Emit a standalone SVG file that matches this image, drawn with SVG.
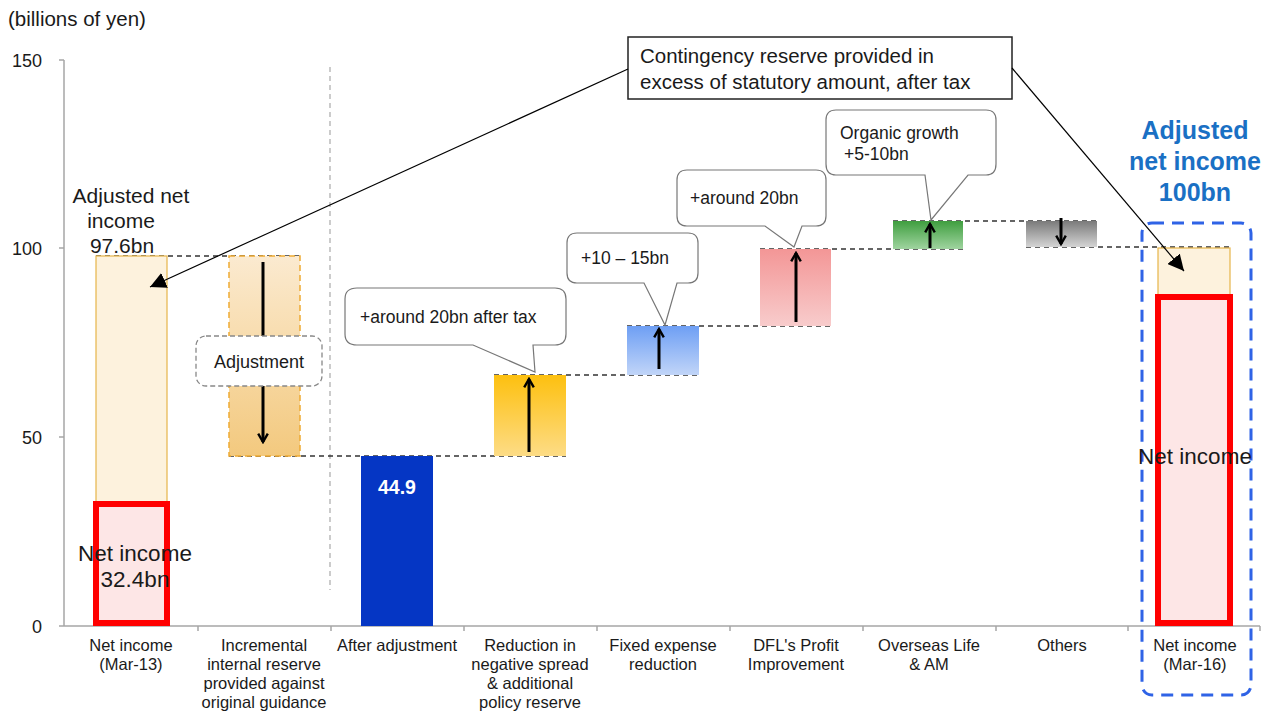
<svg xmlns="http://www.w3.org/2000/svg" width="1273" height="713" viewBox="0 0 1273 713">
  <style>
    text { font-family: "Liberation Sans", Arial, sans-serif; fill: #1a1a1a; }
    .axis { stroke: #a6a6a6; stroke-width: 1.5; fill: none; }
    .ytick { font-size: 18px; text-anchor: end; }
    .xlab { font-size: 16.5px; text-anchor: middle; }
    .level { stroke: #333; stroke-width: 1.3; stroke-dasharray: 5 4; fill: none; }
    .arrow { stroke: #000; stroke-width: 3; fill: none; }
    .callout { fill: #fff; stroke: #777; stroke-width: 1.2; }
    .ctext { font-size: 17.5px; }
    .conn { stroke: #000; stroke-width: 1.2; fill: none; }
    .netbar { fill: #fde6e6; stroke: #ff0000; stroke-width: 6; }
    .adjpart { fill: #fdf2dd; stroke: #e7b54a; stroke-width: 1.2; }
  </style>
  <defs>
    <linearGradient id="gAdj" x1="0" y1="0" x2="0" y2="1">
      <stop offset="0" stop-color="#fbead0"/><stop offset="1" stop-color="#f3c97e"/>
    </linearGradient>
    <linearGradient id="gYel" x1="0" y1="0" x2="0" y2="1">
      <stop offset="0" stop-color="#fdc00f"/><stop offset="1" stop-color="#fddc86"/>
    </linearGradient>
    <linearGradient id="gBlue" x1="0" y1="0" x2="0" y2="1">
      <stop offset="0" stop-color="#6e9ff4"/><stop offset="1" stop-color="#c1d5f8"/>
    </linearGradient>
    <linearGradient id="gPink" x1="0" y1="0" x2="0" y2="1">
      <stop offset="0" stop-color="#f39696"/><stop offset="1" stop-color="#f8cccc"/>
    </linearGradient>
    <linearGradient id="gGreen" x1="0" y1="0" x2="0" y2="1">
      <stop offset="0" stop-color="#3f9e3f"/><stop offset="1" stop-color="#9fd49f"/>
    </linearGradient>
    <linearGradient id="gGray" x1="0" y1="0" x2="0" y2="1">
      <stop offset="0" stop-color="#7a7a7a"/><stop offset="1" stop-color="#d4d4d4"/>
    </linearGradient>
    <marker id="head" viewBox="0 0 10 10" refX="8" refY="5" markerWidth="4" markerHeight="4" orient="auto">
      <path d="M1,1 L8,5 L1,9" fill="none" stroke="#000" stroke-width="2"/>
    </marker>
    <marker id="tri" viewBox="0 0 10 10" refX="10" refY="5" markerWidth="16" markerHeight="16" markerUnits="userSpaceOnUse" orient="auto">
      <path d="M0,0 L10,5 L0,10 Z" fill="#000"/>
    </marker>
  </defs>

  <!-- axes -->
  <g id="axes">
    <text x="8" y="26" style="font-size:20.5px">(billions of yen)</text>
    <line class="axis" x1="64" y1="60" x2="64" y2="626"/>
    <line class="axis" x1="64" y1="626" x2="1260" y2="626"/>
    <line class="axis" x1="59" y1="60" x2="64" y2="60"/>
    <line class="axis" x1="59" y1="248" x2="64" y2="248"/>
    <line class="axis" x1="59" y1="437" x2="64" y2="437"/>
    <line class="axis" x1="59" y1="626" x2="64" y2="626"/>
    <text class="ytick" x="42" y="67">150</text>
    <text class="ytick" x="42" y="255">100</text>
    <text class="ytick" x="42" y="444">50</text>
    <text class="ytick" x="42" y="633">0</text>
    <g class="axis">
      <line x1="198" y1="626" x2="198" y2="631"/>
      <line x1="331" y1="626" x2="331" y2="631"/>
      <line x1="464" y1="626" x2="464" y2="631"/>
      <line x1="597" y1="626" x2="597" y2="631"/>
      <line x1="730" y1="626" x2="730" y2="631"/>
      <line x1="863" y1="626" x2="863" y2="631"/>
      <line x1="996" y1="626" x2="996" y2="631"/>
      <line x1="1128" y1="626" x2="1128" y2="631"/>
      <line x1="1260" y1="626" x2="1260" y2="631"/>
    </g>
    <text class="xlab" x="131" y="651">Net income<tspan x="131" dy="19">(Mar-13)</tspan></text>
    <text class="xlab" x="264" y="651">Incremental<tspan x="264" dy="19">internal reserve</tspan><tspan x="264" dy="19">provided against</tspan><tspan x="264" dy="18.5">original guidance</tspan></text>
    <text class="xlab" x="397" y="651">After adjustment</text>
    <text class="xlab" x="530" y="651">Reduction in<tspan x="530" dy="19">negative spread</tspan><tspan x="530" dy="19">&amp; additional</tspan><tspan x="530" dy="18.5">policy reserve</tspan></text>
    <text class="xlab" x="663" y="651">Fixed expense<tspan x="663" dy="19">reduction</tspan></text>
    <text class="xlab" x="796" y="651">DFL's Profit<tspan x="796" dy="19">Improvement</tspan></text>
    <text class="xlab" x="929" y="651">Overseas Life<tspan x="929" dy="19">&amp; AM</tspan></text>
    <text class="xlab" x="1062" y="651">Others</text>
    <text class="xlab" x="1195" y="651">Net income<tspan x="1195" dy="19">(Mar-16)</tspan></text>
    <line x1="330" y1="67" x2="330" y2="590" stroke="#aaa" stroke-width="1.2" stroke-dasharray="5 4"/>
  </g>

  <!-- level lines between bars -->
  <g id="levels">
    <line class="level" x1="96" y1="256" x2="300" y2="256"/>
    <line class="level" x1="229" y1="456" x2="566" y2="456"/>
    <line class="level" x1="494" y1="375" x2="699" y2="375"/>
    <line class="level" x1="627" y1="326" x2="831" y2="326"/>
    <line class="level" x1="760" y1="249" x2="963" y2="249"/>
    <line class="level" x1="893" y1="221" x2="1097" y2="221"/>
    <line class="level" x1="1026" y1="247" x2="1230" y2="247"/>
  </g>

  <g id="bar-mar13">
    <rect class="adjpart" x="96" y="256" width="71" height="246"/>
    <rect class="netbar" x="96" y="504" width="71" height="119"/>
    <text x="131" y="203" style="font-size:21px" text-anchor="middle">Adjusted net<tspan x="121" dy="25">income</tspan><tspan x="122" dy="25">97.6bn</tspan></text>
    <text x="135" y="561" style="font-size:22.5px" text-anchor="middle">Net income<tspan x="135" dy="26">32.4bn</tspan></text>
  </g>

  <g id="bar-adjustment">
    <rect x="229" y="256" width="71" height="200" fill="url(#gAdj)" stroke="#eeaa33" stroke-width="1.5" stroke-dasharray="6 4"/>
    <line class="arrow" x1="263" y1="262" x2="263" y2="442" marker-end="url(#head)"/>
    <rect x="196" y="336" width="126" height="50" rx="10" fill="#fff" stroke="#888" stroke-width="1.3" stroke-dasharray="5 3"/>
    <text x="259" y="368" style="font-size:18px" text-anchor="middle">Adjustment</text>
  </g>

  <g id="bar-after">
    <rect x="361" y="456" width="72" height="170" fill="#0536c4"/>
    <text x="397" y="494" style="font-size:19.5px;font-weight:bold;fill:#fff" text-anchor="middle">44.9</text>
  </g>

  <g id="bar-spread">
    <rect x="494" y="375" width="72" height="81" fill="url(#gYel)"/>
    <line class="arrow" x1="529" y1="452" x2="529" y2="379" marker-end="url(#head)"/>
    <path class="callout" d="M357,288 H555 Q566,288 566,299 V334 Q566,345 555,345 H533 L535,372 L473,345 H357 Q345,345 345,334 V299 Q345,288 357,288 Z"/>
    <text x="360" y="323" class="ctext">+around 20bn after tax</text>
  </g>

  <g id="bar-expense">
    <rect x="627" y="326" width="72" height="49" fill="url(#gBlue)"/>
    <line class="arrow" x1="659" y1="369" x2="659" y2="329" marker-end="url(#head)"/>
    <path class="callout" d="M577,233 H688 Q698,233 698,243 V273 Q698,283 688,283 H677 L665,325 L644,283 H577 Q567,283 567,273 V243 Q567,233 577,233 Z"/>
    <text x="581" y="264" class="ctext">+10 – 15bn</text>
  </g>

  <g id="bar-dfl">
    <rect x="760" y="249" width="71" height="77" fill="url(#gPink)"/>
    <line class="arrow" x1="796" y1="322" x2="796" y2="253" marker-end="url(#head)"/>
    <path class="callout" d="M687,170 H816 Q826,170 826,180 V216 Q826,226 816,226 H802 L794,247 L765,226 H687 Q677,226 677,216 V180 Q677,170 687,170 Z"/>
    <text x="690" y="204" class="ctext">+around 20bn</text>
  </g>

  <g id="bar-overseas">
    <rect x="893" y="221" width="70" height="28" fill="url(#gGreen)"/>
    <line class="arrow" x1="930" y1="248" x2="930" y2="224" marker-end="url(#head)"/>
    <path class="callout" d="M836,110 H986 Q996,110 996,120 V164 Q996,175 986,175 H968 L931,220 L925,175 H836 Q826,175 826,164 V120 Q826,110 836,110 Z"/>
    <text x="840" y="139" style="font-size:17.5px">Organic growth<tspan x="844" dy="21">+5-10bn</tspan></text>
  </g>

  <g id="bar-others">
    <rect x="1026" y="221" width="71" height="26" fill="url(#gGray)"/>
    <line class="arrow" x1="1061" y1="218" x2="1061" y2="244" marker-end="url(#head)"/>
  </g>

  <g id="bar-mar16">
    <rect x="1142" y="223" width="109" height="472" rx="10" fill="none" stroke="#2f63e6" stroke-width="3" stroke-dasharray="12 8"/>
    <rect class="adjpart" x="1158" y="248" width="72" height="47"/>
    <rect class="netbar" x="1158" y="297" width="72" height="326"/>
    <text x="1195" y="139" style="font-size:25px;font-weight:bold;fill:#1a70c4" text-anchor="middle">Adjusted<tspan x="1195" dy="31">net income</tspan><tspan x="1195" dy="31">100bn</tspan></text>
    <text x="1195" y="464" style="font-size:22.5px" text-anchor="middle">Net income</text>
  </g>

  <g id="note-contingency">
    <rect x="628" y="37" width="384" height="62" fill="#fff" stroke="#222" stroke-width="1.5"/>
    <text x="640" y="63" style="font-size:20.5px">Contingency reserve provided in<tspan x="640" dy="26">excess of statutory amount, after tax</tspan></text>
  </g>

  <!-- leader lines from the note -->
  <g id="connectors">
    <line class="conn" x1="628" y1="69" x2="150" y2="287" marker-end="url(#tri)"/>
    <line class="conn" x1="1012" y1="68" x2="1184" y2="271" marker-end="url(#tri)"/>
  </g>
</svg>
